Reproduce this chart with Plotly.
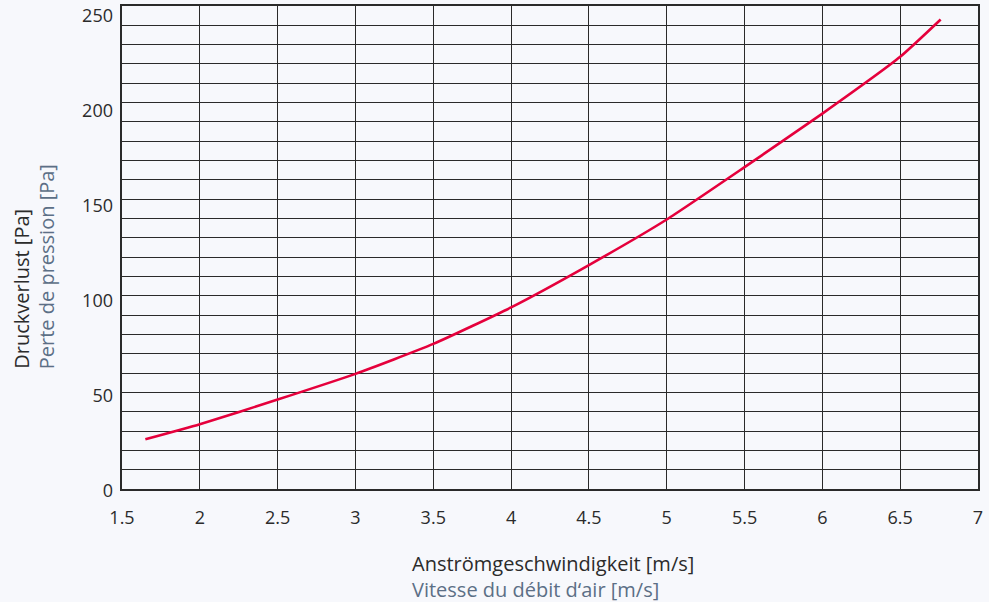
import plotly.graph_objects as go

# Data
velocity = [1.65, 2.0, 2.5, 3.0, 3.5, 4.0, 4.5, 5.0, 5.5, 6.0, 6.5, 6.76]
pressure = [25.7, 33.5, 46.3, 59.6, 75.1, 94.0, 115.9, 139.5, 166.6, 194.3, 223.7, 243.0]

y_tick_values = [0, 50, 100, 150, 200, 250]
x_title_de = "Anströmgeschwindigkeit [m/s]"
x_title_fr = "Vitesse du débit d‘air [m/s]"
y_title_de = "Druckverlust [Pa]"
y_title_fr = "Perte de pression [Pa]"

BG = "#f7f8fc"
GRID = "#2a2a2a"
RED = "#e5003c"
DARK = "#2b2b2b"
SLATE = "#5c6f86"
FONT = "Open Sans"

fig = go.Figure()
fig.add_trace(go.Scatter(
    x=velocity, y=pressure, mode="lines",
    line=dict(color=RED, width=2.6, shape="spline", smoothing=0.5),
    hoverinfo="x+y", showlegend=False,
))
# invisible helper trace so the label axis is drawn
fig.add_trace(go.Scatter(
    x=[velocity[0]], y=[pressure[0]], yaxis="y2", mode="markers",
    marker=dict(opacity=0), hoverinfo="skip", showlegend=False,
))

fig.update_layout(
    width=989, height=602,
    paper_bgcolor=BG, plot_bgcolor=BG,
    margin=dict(l=122, r=11, t=6, b=113, autoexpand=False),
    font=dict(family=FONT, size=18, color=DARK),
    xaxis=dict(
        range=[1.5, 7], dtick=0.5, tick0=1.5,
        showgrid=True, gridcolor=GRID, gridwidth=1,
        showline=True, linecolor=GRID, linewidth=1.5, mirror=True,
        zeroline=False, ticks="", ticklabelstandoff=12,
        ticklabeloverflow="allow", automargin=False,
        tickfont=dict(family=FONT, size=18, color=DARK),
    ),
    yaxis=dict(
        range=[0, 250], dtick=50, tick0=0,
        showgrid=True, gridcolor=GRID, gridwidth=1,
        minor=dict(dtick=10, showgrid=True, gridcolor=GRID, gridwidth=1),
        showline=True, linecolor=GRID, linewidth=1.5, mirror=True,
        zeroline=False, ticks="", showticklabels=False, automargin=False,
    ),
    # label axis: the reference's tick labels sit slightly below their grid lines
    yaxis2=dict(
        overlaying="y", side="left", range=[0, 254.2],
        tickvals=y_tick_values, showgrid=False, showline=False,
        zeroline=False, ticks="", ticklabelstandoff=8, ticklabelshift=2,
        ticklabeloverflow="allow", automargin=False,
        tickfont=dict(family=FONT, size=18, color=DARK),
    ),
    annotations=[
        dict(text=x_title_de, xref="paper", yref="paper",
             x=(410 - 122) / 856, y=-(563 - 488.5) / 482,
             xanchor="left", yanchor="middle", showarrow=False,
             font=dict(family=FONT, size=20, color=DARK)),
        dict(text=x_title_fr, xref="paper", yref="paper",
             x=(410 - 122) / 856, y=-(589 - 488.5) / 482,
             xanchor="left", yanchor="middle", showarrow=False,
             font=dict(family=FONT, size=20, color=SLATE)),
        dict(text=y_title_de, xref="paper", yref="paper", textangle=-90,
             x=-(122 - 21.5) / 856, y=(488.5 - 371) / 482,
             xanchor="center", yanchor="bottom", showarrow=False,
             font=dict(family=FONT, size=20, color=DARK)),
        dict(text=y_title_fr, xref="paper", yref="paper", textangle=-90,
             x=-(122 - 46.5) / 856, y=(488.5 - 371) / 482,
             xanchor="center", yanchor="bottom", showarrow=False,
             font=dict(family=FONT, size=20, color=SLATE)),
    ],
)

fig.write_html(
    "out.html",
    config={"displayModeBar": False},
    post_script="document.body.style.margin='0';document.body.style.background='%s';" % BG,
)
